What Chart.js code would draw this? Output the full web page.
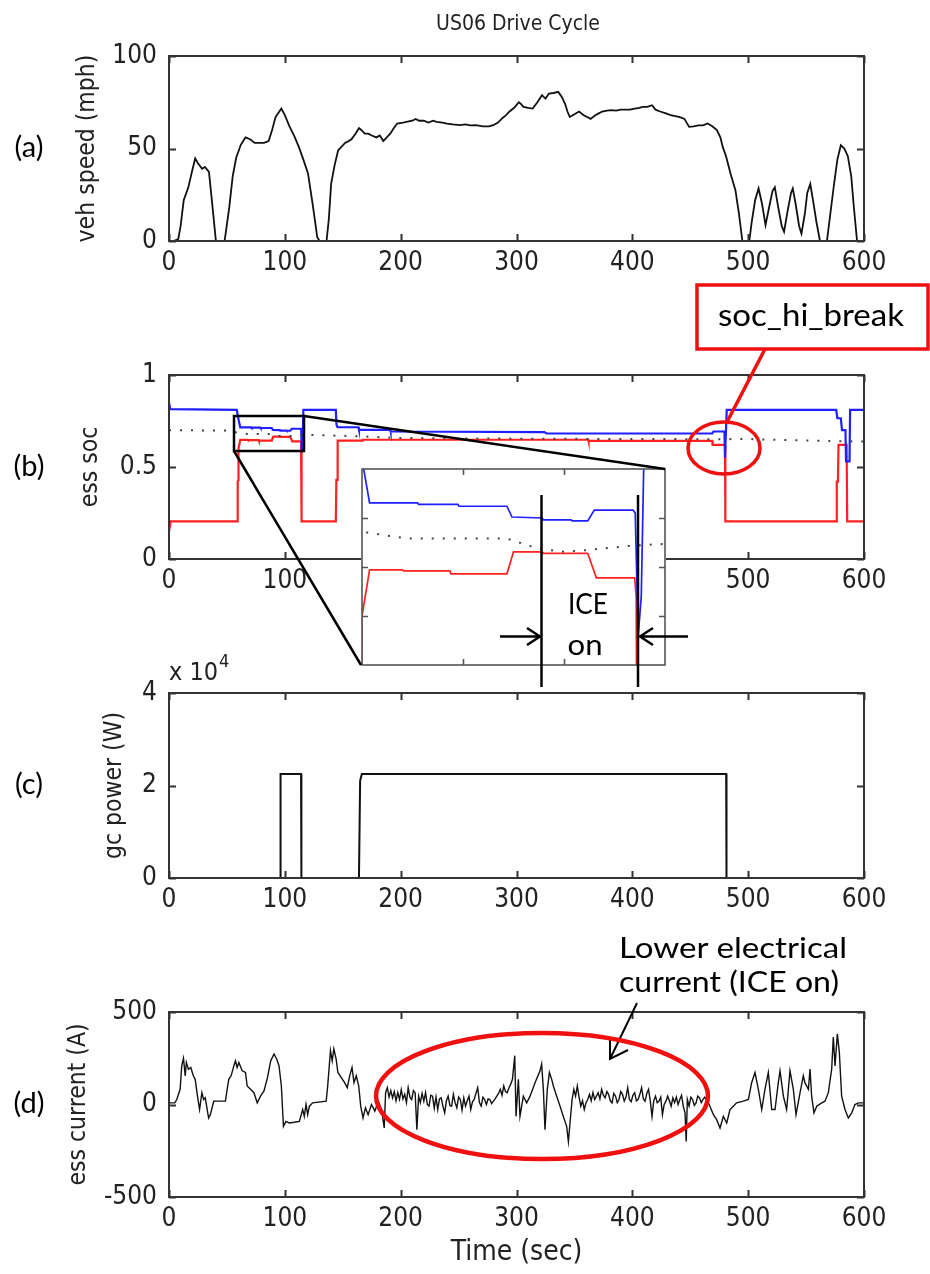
<!DOCTYPE html>
<html><head><meta charset="utf-8">
<script src="https://cdn.jsdelivr.net/npm/chart.js@4.4.0/dist/chart.umd.min.js"></script>
<style>
html,body{margin:0;padding:0;background:#fff;}
body{width:930px;height:1274px;position:relative;overflow:hidden;}
canvas{position:absolute;left:0;}
#ann{position:absolute;left:0;top:0;z-index:5;}
</style></head><body>
<canvas id="cA" width="930" height="291" style="top:0px;z-index:1"></canvas>
<canvas id="cB" width="930" height="290" style="top:319px;z-index:1"></canvas>
<canvas id="cI" width="305" height="198" style="left:361px;top:468px;z-index:3;background:#fff"></canvas>
<canvas id="cC" width="930" height="291" style="top:637px;z-index:1"></canvas>
<canvas id="cD" width="930" height="314" style="top:956px;z-index:1"></canvas>
<svg id="ann" width="930" height="1274">
 <g font-family="'Liberation Sans Narrow','DejaVu Sans Condensed',sans-serif" fill="#222">
  <text x="518" y="30" font-size="21" text-anchor="middle">US06 Drive Cycle</text>
  <text x="169" y="680" font-size="25">x 10</text>
  <text x="219" y="667" font-size="18">4</text>
 </g>
 <g font-family="Lato,'Open Sans',sans-serif" fill="#000" font-size="29" text-anchor="middle">
  <text x="29" y="157">(a)</text>
  <text x="29" y="476">(b)</text>
  <text x="29" y="794">(c)</text>
  <text x="29" y="1113">(d)</text>
 </g>
 <g stroke="#000" stroke-width="2.5" fill="none">
  <rect x="234" y="416" width="70" height="35"/>
  <line x1="304" y1="416" x2="665" y2="469"/>
  <line x1="234" y1="451" x2="361" y2="665"/>
  <line x1="541.5" y1="495" x2="541.5" y2="687"/>
  <line x1="638" y1="495" x2="638" y2="687"/>
  <path d="M500 636.5 H540 M527 628 L540 636.5 L527 645"/>
  <path d="M688 636.5 H640 M653 628 L640 636.5 L653 645"/>
  <path d="M637 1003 L610 1059 M610 1039 L610 1059 L628 1050" stroke-width="2"/>
 </g>
 <g stroke="#f01010" fill="none" stroke-width="3.5">
  <rect x="697" y="285" width="231" height="64" fill="#fff"/>
  <line x1="765" y1="349" x2="727" y2="422"/>
  <ellipse cx="724" cy="448" rx="36" ry="26"/>
  <ellipse cx="542" cy="1096" rx="166" ry="63" stroke-width="4.5"/>
 </g>
 <g font-family="Lato,'Open Sans',sans-serif" fill="#000" text-anchor="middle">
  <text x="811" y="326" font-size="30" textLength="186" lengthAdjust="spacingAndGlyphs">soc_hi_break</text>
  <text x="588" y="614" font-size="29" textLength="40" lengthAdjust="spacingAndGlyphs">ICE</text>
  <text x="585" y="655" font-size="29" textLength="35" lengthAdjust="spacingAndGlyphs">on</text>
  <text x="733" y="958" font-size="29" textLength="228" lengthAdjust="spacingAndGlyphs">Lower electrical</text>
  <text x="729" y="992" font-size="29" textLength="220" lengthAdjust="spacingAndGlyphs">current (ICE on)</text>
 </g>
</svg>
<script>
// ---------------- data ----------------
const xTicks = [0, 100, 200, 300, 400, 500, 600];

const speedT = [0,4,8,10,12.7,16.7,20,22.6,25,28.6,31,34.5,37,40.5,48,52,55,58,62,66,70,74,78,82,86,89,92,97,100,104,108,112,116,120,124,128,130,136,138,140,143,146,149,152,155,157.5,161,164,166,169,172,175,179,182,185,188,191,194,197,202,206,210,213,216,220,224,228,231,236,240,245,251,256,260,265,271,276,280,284,288,291,294,298,302,304,306,310,314,318,322,325,328,332,336,339,342,344,346,350,354,358,361,364,368,371,374,378,382,386,390,394,398,402,406,409,413,417,420,424,429,433,437,441,445,449,453,457,461,465,469,473,476,478,481,485,489,492,495,501,503,506,509,512,515,518,521,523,526,529,531,534,537,538.5,541,544,546,549,551,553.6,556,559,562,568,571,574,577,580,583,586,589,591,594,600];
const speedV = [0,0,1,8,22,29,38,44.6,42,39,40,37.4,22,0,0,18,35,45,52,56,55,53,53,53,54,60,67,71.6,68,62,57,51,44,36.5,20,2,0,0,12,31,41,49,51,53,54,55,58,61,60,58,58,57,56,57,54,56,58,61,63.5,64,64.5,65,66,65,65,64,65,64.4,64,63.5,63,62.6,63,62.5,62.6,62,62,62.6,64,66.5,68,70,72,75,74,72.5,72,71.6,75,78.8,77,79.7,80,80.6,78,74,70,67,68.5,70,68,67,66,68,69,70,70.5,70.7,70.5,71,71,71,71.5,72,72.5,72.5,73.4,71,70,69,68,67.5,67,66,61.7,62,62.5,62.5,63.5,62,60,56,51,45.5,36,27.5,15,0,0,10,22,28.4,20,8.6,18,27,29,18,8,5,16,26,28.4,20,8,4,15,26,30.8,22,10,0,0,15,30,44,51.8,50,46,35,20,0,0];

// ess soc: upper bound (blue), lower bound (red), target (dotted)
const socHiT = [0,1,58.5,60,61.5,71,71.2,79,79.2,88.7,89.7,95.7,95.9,101.4,101.6,104.7,106,113.7,114.1,114.7,115.3,116,144,144.6,145.5,163.5,164,191,191.3,324,326,469,470,479.5,480,480.8,481.5,576,577,580,581,584,584.5,587.5,588,600];
const socHi  = [0.85,0.815,0.81,0.76,0.7155,0.7155,0.714,0.714,0.712,0.712,0.701,0.700,0.698,0.698,0.697,0.697,0.708,0.708,0.705,0.58,0.62,0.81,0.81,0.73,0.716,0.716,0.702,0.702,0.693,0.69,0.682,0.682,0.693,0.693,0.55,0.55,0.81,0.81,0.765,0.765,0.70,0.70,0.53,0.53,0.81,0.81];
const socLoT = [0,1.5,59,59.3,59.8,60,61.5,68,68.2,77.4,77.6,88.7,90,95.7,95.9,104.7,106.4,114,114.3,114.6,144,144.5,145.2,145.6,167,167.2,362,362.2,469,469.3,480,480.3,576,576.5,577.5,578,585,585.5,600];
const socLo  = [0.15,0.205,0.205,0.42,0.43,0.6,0.647,0.647,0.646,0.646,0.643,0.643,0.6655,0.6655,0.664,0.664,0.639,0.639,0.619,0.205,0.205,0.43,0.43,0.643,0.643,0.648,0.648,0.642,0.642,0.62,0.62,0.205,0.205,0.42,0.42,0.62,0.62,0.205,0.205];
const socMidT = [0,48,60,69,88.7,94.7,100,104,114,122,165,195,260,350,470,500,540,600];
const socMid  = [0.700,0.698,0.686,0.679,0.679,0.669,0.6655,0.667,0.672,0.674,0.667,0.658,0.655,0.653,0.651,0.652,0.645,0.638];

// gc power (W)
const gcT = [0,96,96.3,114,114.3,164,165,166.5,481,481.3,600];
const gcP = [0,0,22500,22500,0,0,21000,22500,22500,0,0];

// ess current (A)
const curT = [
 0,5,6.7,9.6,11,12.5,14,15,16.8,18.8,21,22.6,24.6,26.4,28.4,29.9,31.3,34.2,35.7,38.6,48.7,50,51.6,53.6,56,57.4,58.8,60.3,63.2,66,67.5,70.4,73.3,76.2,79,82,85,87.8,90.7,93,95,97,98.8,100.9,103.8,108,112.5,115.4,116.8,118.3,119.7,121.2,124,135.7,137,139.4,140.9,142.3,144.3,145.8,148.7,151.6,153.9,156,158,159.7,161.7,163.8,165.5,167.5,169.6,171.9,174.8,177.7,180.6,183.5,185.8,
 187,188.5,190,191.5,193,194.5,196,197.5,199,200.5,202,203.5,205,206.5,208,209.5,211,212.5,214,215.5,217,218.5,220,221.5,223,224.5,226,227.5,229,230.5,232,233.5,235,236.5,238,239.5,241,242.5,244,245.5,247,248.5,250,251.5,253,254.5,256,257.5,259,260.5,262,263.5,265,266.5,268,269.5,271,272.5,274,275.5,277,278.5,280,281.5,283,284.5,286,287.5,289,290.5,292,293.5,295,296.5,
 298.5,299.6,301.6,303,305.9,308.8,311.7,316,320.3,321.7,323.2,324.6,326.6,328.4,330.4,331.8,334.7,337.6,340.4,343.3,344.8,346.2,
 348,349.5,351,352.5,354,355.5,357,358.5,360,361.5,363,364.5,366,367.5,369,370.5,372,373.5,375,376.5,378,379.5,381,382.5,384,385.5,387,388.5,390,391.5,393,394.5,396,397.5,399,400.5,402,403.5,405,406.5,408,409.5,411,412.5,414,415.5,417,418.5,420,421.5,423,424.5,426,427.5,429,430.5,432,433.5,435,436.5,438,439.5,441,442.5,444,445.5,446.5,447.5,449,450.5,452,453.5,455,456.5,458,459.5,461,462.5,464,465.5,
 467,470,472.8,475.7,478.6,481.5,484.3,487.2,490,495.8,500.2,503,505.9,508.8,511.7,514.5,517.4,520.3,523.2,526,527.5,530.4,533.2,536.1,539,541.3,544.8,547.6,549,552,553.4,554.8,556.8,559.2,563.5,566.3,569.2,572.1,573.5,575,577,578.7,580.7,583.6,586.5,589.4,592.2,595.1,598,600];
const curA = [
 9,9,27,82,209,250,155,227,190,200,155,136,45,-27,64,27,36,-73,-55,18,18,73,136,155,209,236,200,227,182,173,100,82,64,9,45,73,145,236,273,245,209,100,-118,-91,-100,-96,-91,-27,-64,0,-55,-9,9,18,100,291,236,300,245,173,145,118,91,155,200,118,155,100,-9,-73,-18,-55,0,-36,18,-27,-127,
 64,91,40,75,36,70,20,64,27,80,30,55,10,91,40,27,75,64,-136,45,10,60,18,64,0,-9,50,45,-20,40,-27,30,36,-10,-45,20,45,-5,-9,55,10,-18,40,27,-30,35,-9,20,45,-27,15,27,60,91,10,-9,40,27,0,30,27,5,18,30,45,60,82,50,100,70,64,91,110,136,
 264,-64,136,-64,45,9,45,118,182,218,82,-136,82,173,136,100,45,-9,-64,-118,-200,-100,
 27,82,45,100,40,-9,20,-27,10,27,55,20,64,27,45,64,30,82,50,36,70,55,20,9,60,45,10,27,70,55,18,40,91,27,15,50,64,20,27,55,91,30,18,60,82,20,-64,20,45,10,18,40,-55,0,18,45,20,-9,36,10,40,0,27,50,-10,-45,-200,27,-9,40,27,-5,9,45,36,10,27,40,27,10,
 -9,-55,-82,-127,-64,-100,-27,-9,9,18,27,118,173,82,-27,82,173,-27,-27,118,182,45,-27,182,82,-55,64,155,118,82,191,45,-45,-9,9,18,64,191,364,209,382,282,45,-27,-73,-45,0,9,9,9];

// inset view
const insetXRange = [60, 120];
const insetYRange = [0.55, 0.75];
const insetXTicks = [80, 100];
const insetYTicks = [0.6, 0.65, 0.7];

// ---------------- drawing ----------------
const FAM = "'Liberation Sans Narrow','DejaVu Sans Condensed',sans-serif";
Chart.defaults.font.family = FAM;
Chart.defaults.font.size = 26;
Chart.defaults.color = '#222';

const pts = (T, V) => T.map((t, i) => ({x: t, y: V[i]}));

const matlabBox = {
  id: 'matlabBox',
  afterDatasetsDraw(chart, args, o) {
    const {ctx, chartArea: a, scales: {x, y}} = chart;
    const xt = o.xTicks || x.ticks.map(t => t.value);
    const yt = o.yTicks || y.ticks.map(t => t.value);
    const L = o.len || 7;
    ctx.save();
    ctx.strokeStyle = o.color || '#333';
    ctx.lineWidth = o.width || 2;
    ctx.beginPath();
    xt.forEach(v => {
      const p = Math.round(x.getPixelForValue(v)) + 0.5;
      ctx.moveTo(p, a.bottom); ctx.lineTo(p, a.bottom - L);
      ctx.moveTo(p, a.top); ctx.lineTo(p, a.top + L);
    });
    yt.forEach(v => {
      const p = Math.round(y.getPixelForValue(v)) + 0.5;
      ctx.moveTo(a.left, p); ctx.lineTo(a.left + L, p);
      ctx.moveTo(a.right, p); ctx.lineTo(a.right - L, p);
    });
    ctx.stroke();
    ctx.strokeRect(a.left, a.top, a.right - a.left, a.bottom - a.top);
    ctx.restore();
  }
};

function mkChart(id, o) {
  return new Chart(document.getElementById(id), {
    type: 'line',
    data: {datasets: o.datasets},
    options: {
      responsive: false, animation: false, devicePixelRatio: 1, events: [],
      layout: {padding: {left: o.padL, right: 66, top: 56, bottom: 0}},
      elements: {point: {radius: 0}, line: {tension: 0}},
      plugins: {legend: {display: false}, tooltip: {enabled: false}, matlabBox: {xTicks: xTicks}},
      scales: {
        x: {
          type: 'linear', min: 0, max: 600,
          afterBuildTicks: s => { s.ticks = xTicks.map(v => ({value: v})); },
          ticks: {padding: 7, maxRotation: 0, autoSkip: false},
          grid: {display: false, drawTicks: false}, border: {display: false},
          title: o.xTitle ? {display: true, text: o.xTitle, padding: 0, font: {size: 28}} : {display: false},
          afterFit: s => { s.height = o.xH; }
        },
        y: {
          type: 'linear', min: o.yMin, max: o.yMax,
          ticks: {stepSize: o.yStep, padding: 12, callback: o.yCb},
          grid: {display: false, drawTicks: false}, border: {display: false},
          title: {display: true, text: o.yTitle, padding: 0, font: {size: 24.5}},
          afterFit: s => { s.width = 169 - o.padL; }
        }
      }
    },
    plugins: [matlabBox]
  });
}

const blueDs = (w) => ({data: pts(socHiT, socHi), borderColor: '#1f1fff', borderWidth: w});
const redDs = (w) => ({data: pts(socLoT, socLo), borderColor: '#ff2020', borderWidth: w});
const midDs = (w) => ({data: pts(socMidT, socMid), borderColor: '#444', borderWidth: w, borderDash: [2, 9]});

mkChart('cA', {padL: 73, xH: 50, yMin: 0, yMax: 100, yStep: 50, yTitle: 'veh speed (mph)',
  datasets: [{data: pts(speedT, speedV), borderColor: '#111', borderWidth: 1.8}]});

mkChart('cB', {padL: 76, xH: 50, yMin: 0, yMax: 1, yStep: 0.5, yTitle: 'ess soc',
  datasets: [midDs(2), blueDs(2.2), redDs(2.2)]});

mkChart('cC', {padL: 100, xH: 50, yMin: 0, yMax: 40000, yStep: 20000, yTitle: 'gc power (W)',
  yCb: v => v / 10000,
  datasets: [{data: pts(gcT, gcP), borderColor: '#111', borderWidth: 2}]});

mkChart('cD', {padL: 64, xH: 73, yMin: -500, yMax: 500, yStep: 500, yTitle: 'ess current (A)', xTitle: 'Time (sec)',
  datasets: [{data: pts(curT, curA), borderColor: '#111', borderWidth: 1.4}]});

// inset (zoom of the boxed region in (b))
new Chart(document.getElementById('cI'), {
  type: 'line',
  data: {datasets: [midDs(2), blueDs(1.7), redDs(1.7)]},
  options: {
    responsive: false, animation: false, devicePixelRatio: 1, events: [],
    layout: {padding: 1},
    elements: {point: {radius: 0}, line: {tension: 0}},
    plugins: {legend: {display: false}, tooltip: {enabled: false},
      matlabBox: {xTicks: insetXTicks, yTicks: insetYTicks, color: '#555', width: 1.6, len: 6}},
    scales: {
      x: {type: 'linear', min: insetXRange[0], max: insetXRange[1], ticks: {display: false},
        grid: {display: false, drawTicks: false}, border: {display: false}, afterFit: s => { s.height = 0; }},
      y: {type: 'linear', min: insetYRange[0], max: insetYRange[1], ticks: {display: false},
        grid: {display: false, drawTicks: false}, border: {display: false}, afterFit: s => { s.width = 0; }}
    }
  },
  plugins: [matlabBox]
});
</script>
</body></html>
